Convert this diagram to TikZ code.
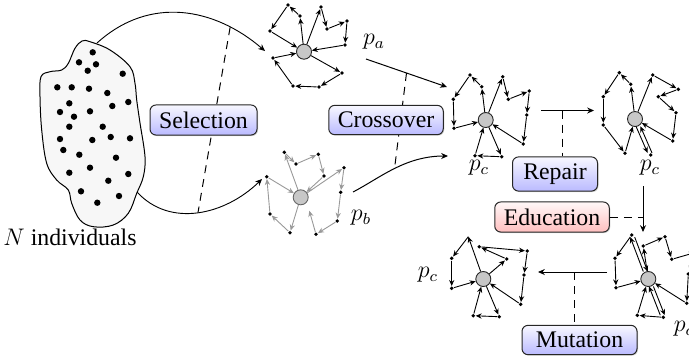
\documentclass[tikz,border=0pt]{standalone}
\usepackage{fontspec}
\setmainfont{Liberation Serif}
\usetikzlibrary{arrows.meta,shadows}
\begin{document}
\begin{tikzpicture}[x=0.5pt,y=-0.5pt,
  dot/.style={circle,fill=black,inner sep=0pt,minimum size=1.9pt},
  depot/.style={circle,draw=black!85,fill=black!22,inner sep=0pt,minimum size=7.5pt,line width=0.45pt},
  edge/.style={-{Stealth[length=3pt,width=2.6pt]},line width=0.45pt},
  gedge/.style={edge,draw=black!40,color=black!40},
  conn/.style={-{Stealth[length=3.4pt,width=3pt]},line width=0.5pt},
  dashline/.style={dash pattern=on 4pt off 3pt,line width=0.5pt},
  lbl/.style={font=\fontsize{11.9}{14}\selectfont,inner sep=0pt},
  opbox/.style={draw=black!85,rounded corners=3pt,top color=blue!3,bottom color=blue!27,
    font=\fontsize{11.9}{14}\selectfont,minimum height=14.5pt,inner xsep=4.5pt,line width=0.5pt,
    drop shadow={shadow xshift=0.5pt,shadow yshift=-0.5pt,opacity=0.35}},
  redbox/.style={opbox,top color=red!3,bottom color=red!25}
]
\useasboundingbox (0,0) rectangle (689,361);

% ---------- population blob ----------
\draw[fill=black!3,line width=0.5pt] plot[smooth cycle,tension=0.6] coordinates {
 (90,41.7) (110,50) (130,66.7) (135,83.3) (136.7,100) (140,123) (145,156.7) (143.3,176.7)
 (136.7,193.3) (128.3,213.3) (113.3,225) (93.3,226.7) (80,220) (71.7,203.3) (68.3,190)
 (56.7,180) (46.7,163.3) (41.7,130) (40,96.7) (41,76.7) (50,71.7) (61.7,70) (68.3,63.3)
 (75,48.3) (82,41)};
\foreach \p in {(92.7,52.3),(79,62.3),(96,64.3),(87.7,70.7),(122.7,73.7),(57.3,87.3),(71.7,87.3),
 (89,88.7),(107.3,93),(69.3,103.3),(112.3,106),(128.3,102),(60,112),(74,116.7),(90,111.3),
 (69.3,126.7),(102.7,126.7),(60,139),(92.3,140),(110.7,137),(130,138.3),(63.3,150),(79.3,154.7),
 (116,157.7),(90,167.7),(69.3,172.7),(128.3,174),(108.3,180.7),(81,191.3),(119,196),(97.3,202.7)}
  \fill \p circle (1.6pt);
\node[lbl] (nind) at (70,237) {$N$ individuals};

\coordinate (blobT) at (97,43);
\coordinate (blobB) at (137,192);
\coordinate (paIn) at (265,51);
\coordinate (pbIn) at (262,179);

% ---------- parent a ----------
\node[depot] (ad) at (304,51.7) {};
\foreach \n/\x/\y in {a1/300/16,a2/288/5,a3/270/31,a4/321/7,a5/327/29,a6/347/21,a7/345/45,
  a8/342/73,a9/319/87,a10/293/86,a11/273/58}
  \node[dot] (\n) at (\x,\y) {};
\foreach \u/\v in {ad/a1,a1/a2,a2/a3,a3/ad,ad/a4,a4/a5,a5/a6,a6/a7,a7/ad,ad/a8,a8/a9,a9/a10,a10/a11,a11/ad}
  \draw[edge] (\u) -- (\v);
\node[lbl] (pa) at (374,42) {$p_a$};

% ---------- parent b (gray) ----------
\node[depot,draw=black!60] (bd) at (300.7,197.3) {};
\foreach \n/\x/\y in {b1/284.3/152.3,b2/296/164,b3/318.3/154.3,b4/324/176,b5/266.7/176.7,
  b6/270/214,b7/290/232.7,b8/316/234.3,b9/337.3/221,b10/340.7/192.3,b11/344/167.7}
  \node[dot] (\n) at (\x,\y) {};
\coordinate (bfree) at (309.3,210.7);
\foreach \u/\v in {bd/b1,b1/b2,b2/b3,b3/b4,b4/bd,bd/b7,b7/b6,b6/b5,b5/bd,bd/b11,b11/b10,b10/b9,b9/b8,b8/bfree}
  \draw[gedge] (\u) -- (\v);
\node[lbl] (pb) at (361,218) {$p_b$};

% ---------- child after crossover ----------
\node[depot] (cd) at (485.7,120) {};
\foreach \n/\x/\y in {c1/481.7/86.7,c2/470/75,c3/453.3/99.3,c4/454/128.3,c5/502.7/76.7,
  c6/508.3/99.3,c7/529.3/91,c8/526.7/115,c9/523.3/144,c10/501.7/156.7,c11/475/155.7}
  \node[dot] (\n) at (\x,\y) {};
\foreach \u/\v in {cd/c1,c1/c2,c2/c3,c3/c4,c4/cd,cd/c5,c5/c6,c6/c7,c7/c8,c8/c9,c9/cd,cd/c10,c10/c11,c11/cd}
  \draw[edge] (\u) -- (\v);
\node[lbl] (pc1) at (479,168) {$p_c$};

% ---------- child after repair ----------
\node[depot] (ed) at (635,119) {};
\foreach \n/\x/\y in {e1/630.7/84.3,e2/619.3/72.7,e3/603.3/96.7,e4/603.3/125,e5/625/153.3,
  e6/652.7/75,e7/678.3/89.3,e8/658.3/96.7,e9/676/112.7,e10/672.7/141,e11/650.7/155}
  \node[dot] (\n) at (\x,\y) {};
\foreach \u/\v in {ed/e1,e1/e2,e2/e3,e3/e4,e4/e5,e5/ed,ed/e6,e6/e7,e7/e8,e8/e9,e9/e10,e10/ed}
  \draw[edge] (\u) -- (\v);
\draw[edge,transform canvas={xshift=-1.1pt}] (ed) -- (e11);
\draw[edge,transform canvas={xshift=1.1pt}] (e11) -- (ed);
\node[lbl] (pc2) at (650,168) {$p_c$};

% ---------- child before mutation (after education) ----------
\node[depot] (od) at (648.3,279) {};
\foreach \n/\x/\y in {o1/631.7/235,o2/615/258.3,o3/616/287.7,o4/643.3/246,o5/665/236.7,
  o6/671.7/259.3,o7/697/252,o8/688.3/274,o9/686.7/303.3,o10/663.3/317.3,o11/637.3/315.3}
  \node[dot] (\n) at (\x,\y) {};
\foreach \u/\v in {o1/o2,o2/o3,o3/od,od/o4,o4/o5,o5/o6,o6/o7,o7/o8,o8/o9,o9/od,o10/o11,o11/od}
  \draw[edge] (\u) -- (\v);
\draw[edge,transform canvas={xshift=-1.1pt}] (od) -- (o1);
\draw[edge,transform canvas={xshift=1.1pt}] (o1) -- (od);
\draw[edge,transform canvas={xshift=-1.1pt}] (o10) -- (od);
\draw[edge,transform canvas={xshift=1.1pt}] (od) -- (o10);
\node[lbl] (pc4) at (684,329) {$p_c$};

% ---------- child after mutation ----------
\node[depot] (md) at (483.3,279) {};
\coordinate (m1) at (468.3,236.7);
\foreach \n/\x/\y in {m2/451.7/258.3,m3/451.7/288.3,m4/506.7/259,m5/479.3/246.7,m6/527.3/251,
  m7/524/275,m8/520.7/304.3,m9/499.3/316.7,m10/473.3/315.7}
  \node[dot] (\n) at (\x,\y) {};
\foreach \u/\v in {md/m1,m1/m2,m2/m3,m3/md,md/m4,m4/m5,m5/m6,m6/m7,m7/m8,m8/md,md/m9,m9/m10,m10/md}
  \draw[edge] (\u) -- (\v);
\node[lbl] (pc3) at (428,275) {$p_c$};

% ---------- selection ----------
\draw[conn,line width=0.45pt] (blobT) .. controls (150,-5) and (215,8) .. coordinate[pos=0.78] (selT) (paIn);
\draw[conn,line width=0.45pt] (blobB) .. controls (170,228) and (225,215) .. coordinate[pos=0.5] (selB) (pbIn);
\draw[dashline] (selT) -- (selB);
\node[opbox,minimum width=53.5pt] (sel) at (203.5,120) {Selection};

% ---------- crossover ----------
\coordinate (paOut) at (366,59);
\coordinate (cIn1) at (447,87);
\coordinate (pbOut) at (353,192);
\coordinate (cIn2) at (448,156);
\draw[conn] (paOut) -- coordinate[pos=0.5] (crT) (cIn1);
\draw[conn] (pbOut) .. controls (380,178) and (405,156) .. coordinate[pos=0.5] (crB) (cIn2);
\draw[dashline] (crT) -- (crB);
\node[opbox,minimum width=57pt] (cro) at (386,120) {Crossover};

% ---------- repair ----------
\coordinate (rS) at (541,110.5);
\coordinate (rE) at (594,110.5);
\coordinate (rM) at (562,110.5);
\node[opbox,minimum width=42.5pt] (rep) at (555,174) {Repair};
\draw[conn] (rS) -- (rE);
\draw[dashline] (rM) -- (rM |- rep.north);

% ---------- education ----------
\coordinate (eS) at (643,186);
\coordinate (eE) at (643,232);
\node[redbox,minimum width=57pt] (edu) at (552,217) {Education};
\draw[conn] (eS) -- (eE);
\draw[dashline] (edu.east) -- (edu.east -| eS);

% ---------- mutation ----------
\coordinate (mS) at (607,272);
\coordinate (mE) at (538,272);
\coordinate (mM) at (574,272);
\node[opbox,minimum width=57.5pt] (mut) at (579.5,340) {Mutation};
\draw[conn] (mS) -- (mE);
\draw[dashline] (mM) -- (mM |- mut.north);
\end{tikzpicture}
\end{document}
